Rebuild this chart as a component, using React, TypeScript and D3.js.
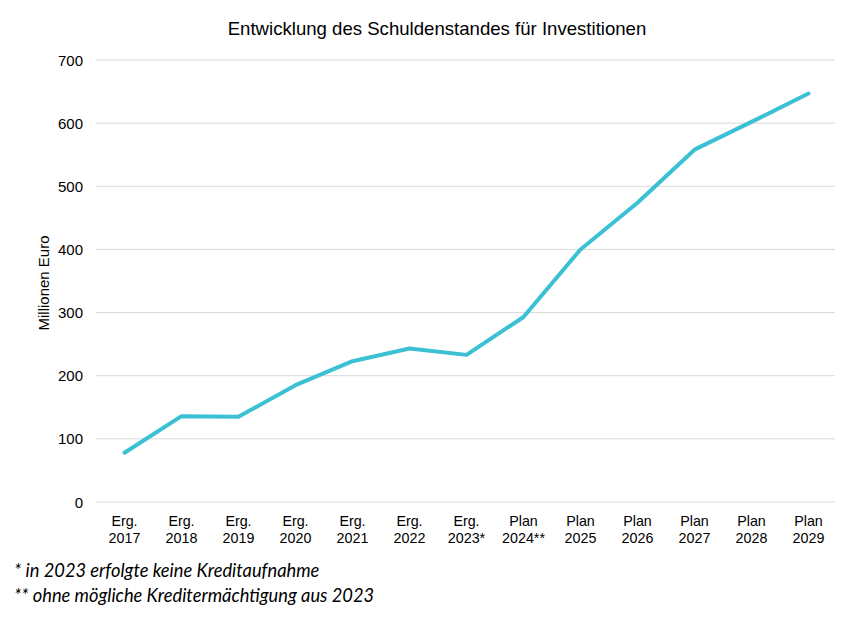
import React from "react";
import * as d3 from "d3";

const categories = [
  ["Erg.", "2017"], ["Erg.", "2018"], ["Erg.", "2019"], ["Erg.", "2020"],
  ["Erg.", "2021"], ["Erg.", "2022"], ["Erg.", "2023*"], ["Plan", "2024**"],
  ["Plan", "2025"], ["Plan", "2026"], ["Plan", "2027"], ["Plan", "2028"], ["Plan", "2029"],
];
const values = [78, 136, 135, 185, 223, 243, 233, 293, 400, 474, 558, 602, 647];
const yTicks = [0, 100, 200, 300, 400, 500, 600, 700];
const title = "Entwicklung des Schuldenstandes für Investitionen";
const yTitle = "Millionen Euro";
const footnotes = ["* in 2023 erfolgte keine Kreditaufnahme", "** ohne mögliche Kreditermächtigung aus 2023"];

export default function App() {
  const W = 851, H = 620;
  const left = 96, right = 837, top = 60, bottom = 502;
  const x = d3.scaleBand<number>().domain(d3.range(categories.length)).range([left, right]);
  const y = d3.scaleLinear().domain([0, 700]).range([bottom, top]);
  const line = d3.line<number>().x((_, i) => x(i)! + x.bandwidth() / 2).y((d) => y(d));
  const font = "Liberation Sans, Arial, sans-serif";
  return (
    <svg width={W} height={H} style={{ position: "absolute", left: 0, top: 0, background: "#fff" }}>
      <rect width={W} height={H} fill="#fff" />
      <text x={437} y={35} textAnchor="middle" fontFamily={font} fontSize={18.6} fill="#000">{title}</text>
      {yTicks.map((t) => (
        <g key={t}>
          <line x1={left} x2={right - 2} y1={y(t)} y2={y(t)} stroke="#d9d9d9" strokeWidth={1} />
          <text x={83} y={y(t) + 5.5} textAnchor="end" fontFamily={font} fontSize={15} fill="#000">{t}</text>
        </g>
      ))}
      <text transform={`translate(49,${(top + bottom) / 2 + 2}) rotate(-90)`} textAnchor="middle" fontFamily={font} fontSize={15} fill="#000">{yTitle}</text>
      {categories.map((c, i) => (
        <text key={i} textAnchor="middle" fontFamily={font} fontSize={14.3} fill="#000">
          <tspan x={x(i)! + x.bandwidth() / 2} y={526}>{c[0]}</tspan>
          <tspan x={x(i)! + x.bandwidth() / 2} y={543}>{c[1]}</tspan>
        </text>
      ))}
      <path d={line(values)!} fill="none" stroke="#3bc1d3" strokeWidth={4} strokeLinejoin="round" strokeLinecap="round" />
      {footnotes.map((f, i) => (
        <text key={i} x={14} y={577 + i * 25} fontFamily="Lato, sans-serif" fontStyle="italic" fontSize={18.3} fill="#000">{f}</text>
      ))}
    </svg>
  );
}
